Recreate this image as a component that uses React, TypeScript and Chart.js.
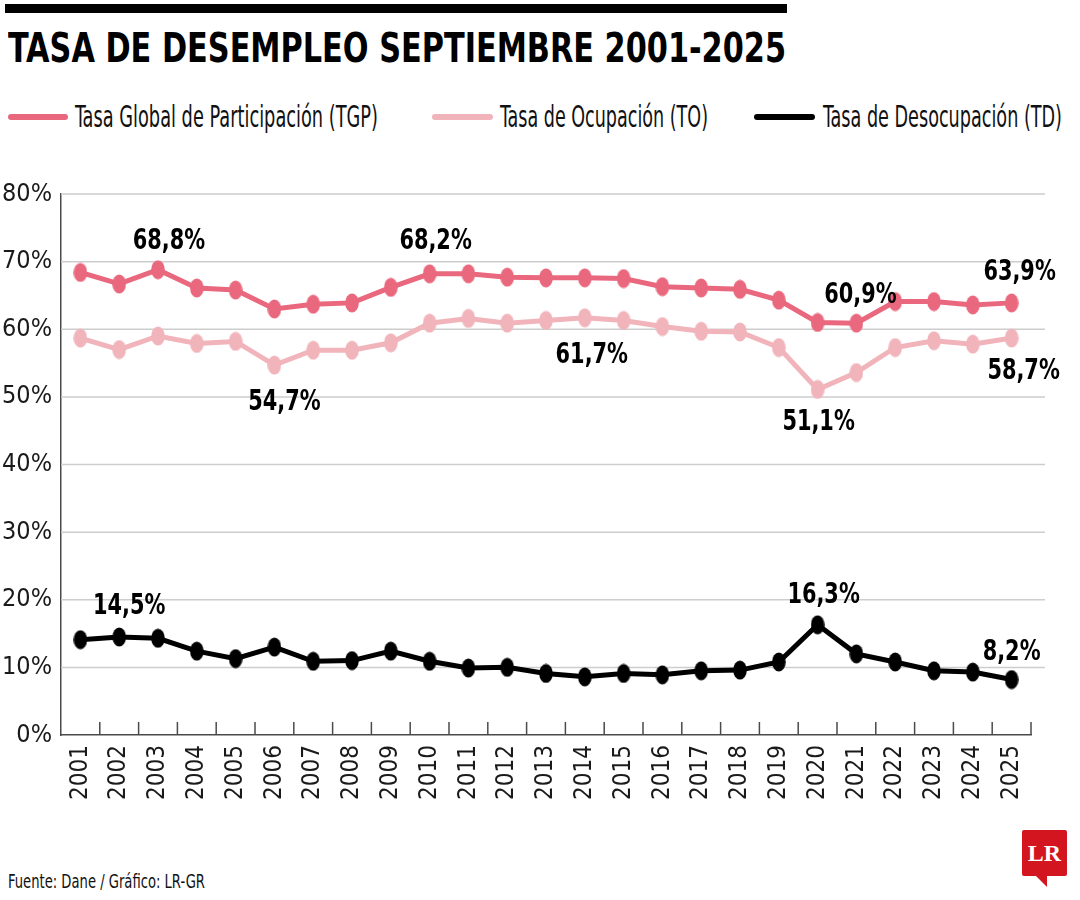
import React, { useEffect, useRef, useMemo } from "react";
import { Chart, registerables } from "chart.js";

Chart.register(...registerables);

// ---------- data ----------
const years = [
  "2001", "2002", "2003", "2004", "2005", "2006", "2007", "2008", "2009", "2010",
  "2011", "2012", "2013", "2014", "2015", "2016", "2017", "2018", "2019", "2020",
  "2021", "2022", "2023", "2024", "2025",
];
const tgpValues = [
  68.4, 66.7, 68.8, 66.1, 65.8, 63.0, 63.7, 63.9, 66.2, 68.2,
  68.2, 67.7, 67.6, 67.6, 67.5, 66.3, 66.1, 65.9, 64.3, 61.0,
  60.9, 64.1, 64.1, 63.6, 63.9,
];
const toValues = [
  58.7, 57.0, 59.0, 57.9, 58.2, 54.7, 56.9, 56.9, 58.0, 60.9,
  61.6, 60.9, 61.3, 61.7, 61.3, 60.4, 59.7, 59.6, 57.3, 51.1,
  53.6, 57.3, 58.3, 57.8, 58.7,
];
const tdValues = [
  14.1, 14.5, 14.3, 12.4, 11.3, 13.0, 10.9, 11.0, 12.4, 10.9,
  9.9, 10.0, 9.1, 8.6, 9.1, 8.9, 9.5, 9.6, 10.8, 16.3,
  12.0, 10.8, 9.5, 9.3, 8.2,
];
const seriesNames = [
  "Tasa Global de Participación (TGP)",
  "Tasa de Ocupación (TO)",
  "Tasa de Desocupación (TD)",
];
const yTickValues = [0, 10, 20, 30, 40, 50, 60, 70, 80];

// which points carry a value label (series index, year)
const labelledPoints = [
  { series: 0, year: "2003" },
  { series: 0, year: "2010" },
  { series: 0, year: "2021" },
  { series: 0, year: "2025" },
  { series: 1, year: "2006" },
  { series: 1, year: "2014" },
  { series: 1, year: "2020" },
  { series: 1, year: "2025" },
  { series: 2, year: "2002" },
  { series: 2, year: "2020" },
  { series: 2, year: "2025" },
];
// label offsets from their point (styling, kept apart from data)
const labelOffsets = [
  [11, -28], [6, -32], [4, -28], [8, -30],
  [10, 37], [7, 38], [1, 33], [12, 33],
  [10, -30], [6, -29], [0, -27],
];

// ---------- style ----------
const COLORS = ["#e9687e", "#f1b4bb", "#000000"];
const FONT = "'Liberation Sans Narrow', 'Arial Narrow', 'DejaVu Sans Condensed', sans-serif";
const GRID = "#cdcdcd";
const AXIS = "#4a4a4a";
const LABEL_SQUEEZE = 0.8;

const fmt = (v: number) => v.toFixed(1).replace(".", ",") + "%";

function fitScale(text: string, font: string, width: number) {
  const c = document.createElement("canvas").getContext("2d");
  if (!c) return 1;
  c.font = font;
  const w = c.measureText(text).width;
  return w > 0 ? width / w : 1;
}

function FitText(props: { text: string; size: number; weight?: number; width: number; left: number; capCenter: number; color?: string }) {
  const { text, size, weight = 400, width, left, capCenter, color = "#000" } = props;
  const fontStr = `${weight} ${size}px ${FONT}`;
  const sx = useMemo(() => fitScale(text, fontStr, width), [text, fontStr, width]);
  return (
    <div
      style={{
        position: "absolute",
        left,
        top: capCenter - 0.482 * size,
        font: fontStr,
        lineHeight: `${size}px`,
        whiteSpace: "nowrap",
        color,
        transform: `scaleX(${sx})`,
        transformOrigin: "left center",
      }}
    >
      {text}
    </div>
  );
}

function makeDot(color: string) {
  const c = document.createElement("canvas");
  c.width = 14;
  c.height = 20;
  const g = c.getContext("2d");
  if (g) {
    g.fillStyle = color;
    g.beginPath();
    g.ellipse(7, 10, 6.8, 9.6, 0, 0, Math.PI * 2);
    g.fill();
  }
  return c;
}

const extrasPlugin = {
  id: "extras",
  beforeDatasetsDraw(chart: any) {
    const { ctx, chartArea, scales } = chart;
    const y = scales.y;
    const x = scales.x;
    ctx.save();
    ctx.strokeStyle = GRID;
    ctx.lineWidth = 1.5;
    y.ticks.forEach((t: any) => {
      if (t.value === 0) return;
      const py = y.getPixelForValue(t.value);
      ctx.beginPath();
      ctx.moveTo(chartArea.left, py);
      ctx.lineTo(chartArea.right + 14, py);
      ctx.stroke();
    });
    ctx.strokeStyle = AXIS;
    ctx.lineWidth = 1.5;
    const n = x.ticks.length;
    for (let i = 0; i < n; i++) {
      const px = i < n - 1 ? (x.getPixelForTick(i) + x.getPixelForTick(i + 1)) / 2 : chartArea.right;
      ctx.beginPath();
      ctx.moveTo(px, chartArea.bottom);
      ctx.lineTo(px, chartArea.bottom - 13);
      ctx.stroke();
    }
    ctx.restore();
  },
  afterDatasetsDraw(chart: any) {
    const { ctx } = chart;
    ctx.save();
    ctx.font = `700 29px ${FONT}`;
    ctx.fillStyle = "#000";
    ctx.textAlign = "center";
    ctx.textBaseline = "middle";
    labelledPoints.forEach((lp, k) => {
      const idx = years.indexOf(lp.year);
      const meta = chart.getDatasetMeta(lp.series);
      const pt = meta.data[idx];
      const val = chart.data.datasets[lp.series].data[idx] as number;
      const [dx, dy] = labelOffsets[k];
      ctx.save();
      ctx.translate(pt.x + dx, pt.y + dy);
      ctx.scale(LABEL_SQUEEZE, 1);
      ctx.fillText(fmt(val), 0, 0);
      ctx.restore();
    });
    ctx.restore();
  },
};

function LineChart() {
  const ref = useRef<HTMLCanvasElement>(null);
  useEffect(() => {
    if (!ref.current) return;
    const dots = COLORS.map(makeDot);
    const chart = new Chart(ref.current, {
      type: "line",
      data: {
        labels: years,
        datasets: [tgpValues, toValues, tdValues].map((d, i) => ({
          label: seriesNames[i],
          data: d,
          borderColor: COLORS[i],
          backgroundColor: COLORS[i],
          borderWidth: 5,
          pointStyle: dots[i] as any,
          pointRadius: 7,
          tension: 0,
        })),
      },
      options: {
        animation: false,
        responsive: false,
        devicePixelRatio: 1,
        layout: { padding: { top: 21, right: 49, left: 0, bottom: 0 } },
        plugins: { legend: { display: false }, tooltip: { enabled: false } },
        scales: {
          x: {
            type: "category",
            offset: true,
            grid: { display: true, drawOnChartArea: false, drawTicks: false },
            border: { display: true, color: AXIS, width: 1.5 },
            ticks: {
              autoSkip: false,
              maxRotation: 90,
              minRotation: 90,
              padding: 10,
              color: "#1a1a1a",
              font: { family: FONT, size: 24 },
            },
            afterFit: (s: any) => {
              s.height = 75;
            },
          },
          y: {
            min: 0,
            max: 80,
            afterBuildTicks: (s: any) => {
              s.ticks = yTickValues.map((v) => ({ value: v }));
            },
            grid: { display: true, drawOnChartArea: false, drawTicks: false },
            border: { display: true, color: AXIS, width: 1.5 },
            ticks: {
              padding: 9,
              color: "#1a1a1a",
              font: { family: FONT, size: 25 },
              callback: (v: any) => `${v}%`,
            },
            afterFit: (s: any) => {
              s.width = 61;
            },
          },
        },
      },
      plugins: [extrasPlugin],
    });
    return () => chart.destroy();
  }, []);
  return <canvas ref={ref} width={1080} height={640} style={{ width: 1080, height: 640, display: "block" }} />;
}

export default function App() {
  useEffect(() => {
    document.body.style.margin = "0";
    document.body.style.background = "#fff";
  }, []);
  const legendItems = [
    { line: [8, 68], textLeft: 75, textWidth: 303 },
    { line: [432, 493], textLeft: 500, textWidth: 208 },
    { line: [754, 815], textLeft: 823, textWidth: 239 },
  ];
  return (
    <div style={{ position: "relative", width: 1080, height: 900, background: "#fff", overflow: "hidden" }}>
      <div style={{ position: "absolute", left: 5, top: 4, width: 782, height: 9, background: "#000" }} />
      <FitText text="TASA DE DESEMPLEO SEPTIEMBRE 2001-2025" size={40} weight={700} width={778} left={8} capCenter={47.5} />
      {legendItems.map((it, i) => (
        <React.Fragment key={i}>
          <div
            style={{
              position: "absolute",
              left: it.line[0],
              top: 114,
              width: it.line[1] - it.line[0],
              height: 6,
              borderRadius: 3,
              background: COLORS[i],
            }}
          />
          <FitText text={seriesNames[i]} size={30} width={it.textWidth} left={it.textLeft} capCenter={116} color="#111" />
        </React.Fragment>
      ))}
      <div style={{ position: "absolute", left: 0, top: 170 }}>
        <LineChart />
      </div>
      <FitText text="Fuente: Dane / Gráfico: LR-GR" size={19} width={197} left={8} capCenter={881} color="#111" />
      <div
        style={{
          position: "absolute",
          left: 1022,
          top: 830,
          width: 45,
          height: 46,
          background: "#d2151f",
          borderRadius: 2,
          color: "#fff",
          font: "700 24px 'Liberation Serif', 'DejaVu Serif', serif",
          display: "flex",
          alignItems: "center",
          justifyContent: "center",
        }}
      >
        LR
      </div>
      <div
        style={{
          position: "absolute",
          left: 1036,
          top: 876,
          width: 0,
          height: 0,
          borderTop: "11px solid #d2151f",
          borderLeft: "11px solid transparent",
        }}
      />
    </div>
  );
}
